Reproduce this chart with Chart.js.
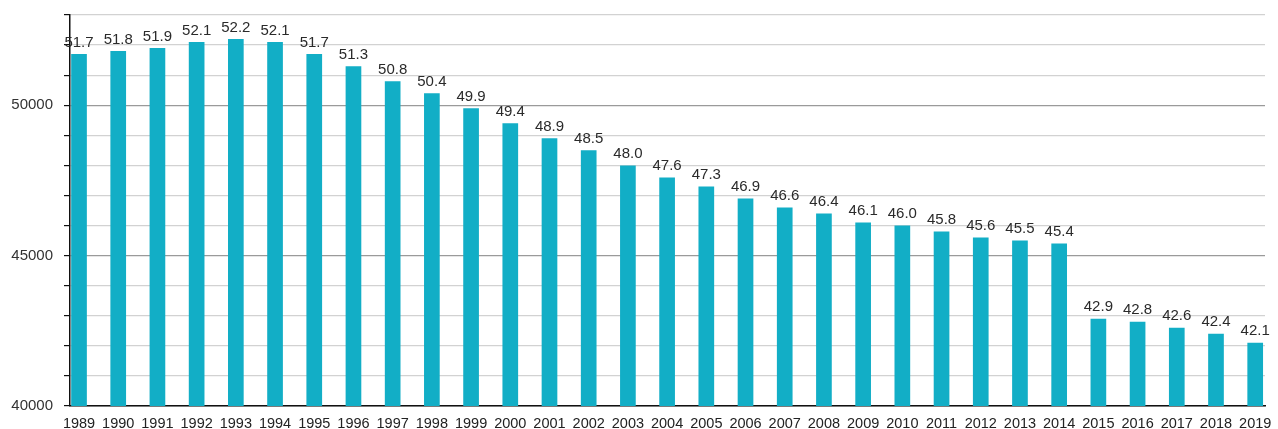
<!DOCTYPE html>
<html>
<head>
<meta charset="utf-8">
<script src="https://cdn.jsdelivr.net/npm/chart.js@4"></script>
<style>
  html, body { margin: 0; padding: 0; background: #fff; }
  #wrap { width: 1278px; height: 429px; }
</style>
</head>
<body>
<div id="wrap"><canvas id="chart"></canvas></div>
<script>
const years = ["1989", "1990", "1991", "1992", "1993", "1994", "1995", "1996", "1997", "1998", "1999", "2000",
  "2001", "2002", "2003", "2004", "2005", "2006", "2007", "2008", "2009", "2010", "2011", "2012", "2013",
  "2014", "2015", "2016", "2017", "2018", "2019"];
// values in thousands, as printed above the bars
const values = [51.7, 51.8, 51.9, 52.1, 52.2, 52.1, 51.7, 51.3, 50.8, 50.4, 49.9, 49.4,
  48.9, 48.5, 48.0, 47.6, 47.3, 46.9, 46.6, 46.4, 46.1, 46.0, 45.8, 45.6, 45.5,
  45.4, 42.9, 42.8, 42.6, 42.4, 42.1];
const yTicks = [40000, 45000, 50000];

const font = "'Liberation Sans', Arial, sans-serif";

const barLabels = {
  id: "barLabels",
  afterDatasetsDraw(chart) {
    const { ctx } = chart;
    const meta = chart.getDatasetMeta(0);
    ctx.save();
    ctx.font = "15px " + font;
    ctx.fillStyle = "#2a2a2a";
    ctx.textAlign = "center";
    ctx.textBaseline = "bottom";
    meta.data.forEach((bar, i) => {
      ctx.fillText(values[i].toFixed(1), bar.x, bar.y - 4);
    });
    ctx.restore();
  }
};

new Chart(document.getElementById("chart"), {
  type: "bar",
  data: {
    datasets: [{
      data: values.map((v, i) => ({ x: i, y: v * 1000 })),
      backgroundColor: "#12aec6",
      barPercentage: 0.4,
      categoryPercentage: 1,
    }],
  },
  options: {
    responsive: true,
    maintainAspectRatio: false,
    animation: false,
    layout: { padding: { top: 15, right: 13, left: 0, bottom: 0 } },
    plugins: { legend: { display: false }, tooltip: { enabled: false } },
    scales: {
      x: {
        type: "linear",
        offset: false,
        min: -0.23,
        max: 30.25,
        grid: { display: false },
        border: { color: "#111", width: 1.5 },
        afterFit(scale) { scale.height = 23; scale.paddingLeft = 0; scale.paddingRight = 0; },
        ticks: {
          stepSize: 1,
          includeBounds: false,
          autoSkip: false,
          maxRotation: 0,
          padding: 1,
          color: "#222",
          font: { family: font, size: 14.5 },
          callback: (v) => years[v],
        },
      },
      y: {
        min: 40000,
        max: 53000,
        border: { color: "#111", width: 1.5 },
        afterFit(scale) { scale.width = 70; scale.paddingTop = 0; scale.paddingBottom = 0; },
        grid: {
          color: (c) => (yTicks.includes(c.tick.value) ? "#9a9a9a" : "#d2d2d2"),
          lineWidth: 1.2,
          tickColor: "#111",
          tickLength: 6,
        },
        ticks: {
          stepSize: 1000,
          padding: 11,
          color: "#333",
          font: { family: font, size: 15 },
          callback: (v) => (yTicks.includes(v) ? String(v) : ""),
        },
      },
    },
  },
  plugins: [barLabels],
});
</script>
</body>
</html>
